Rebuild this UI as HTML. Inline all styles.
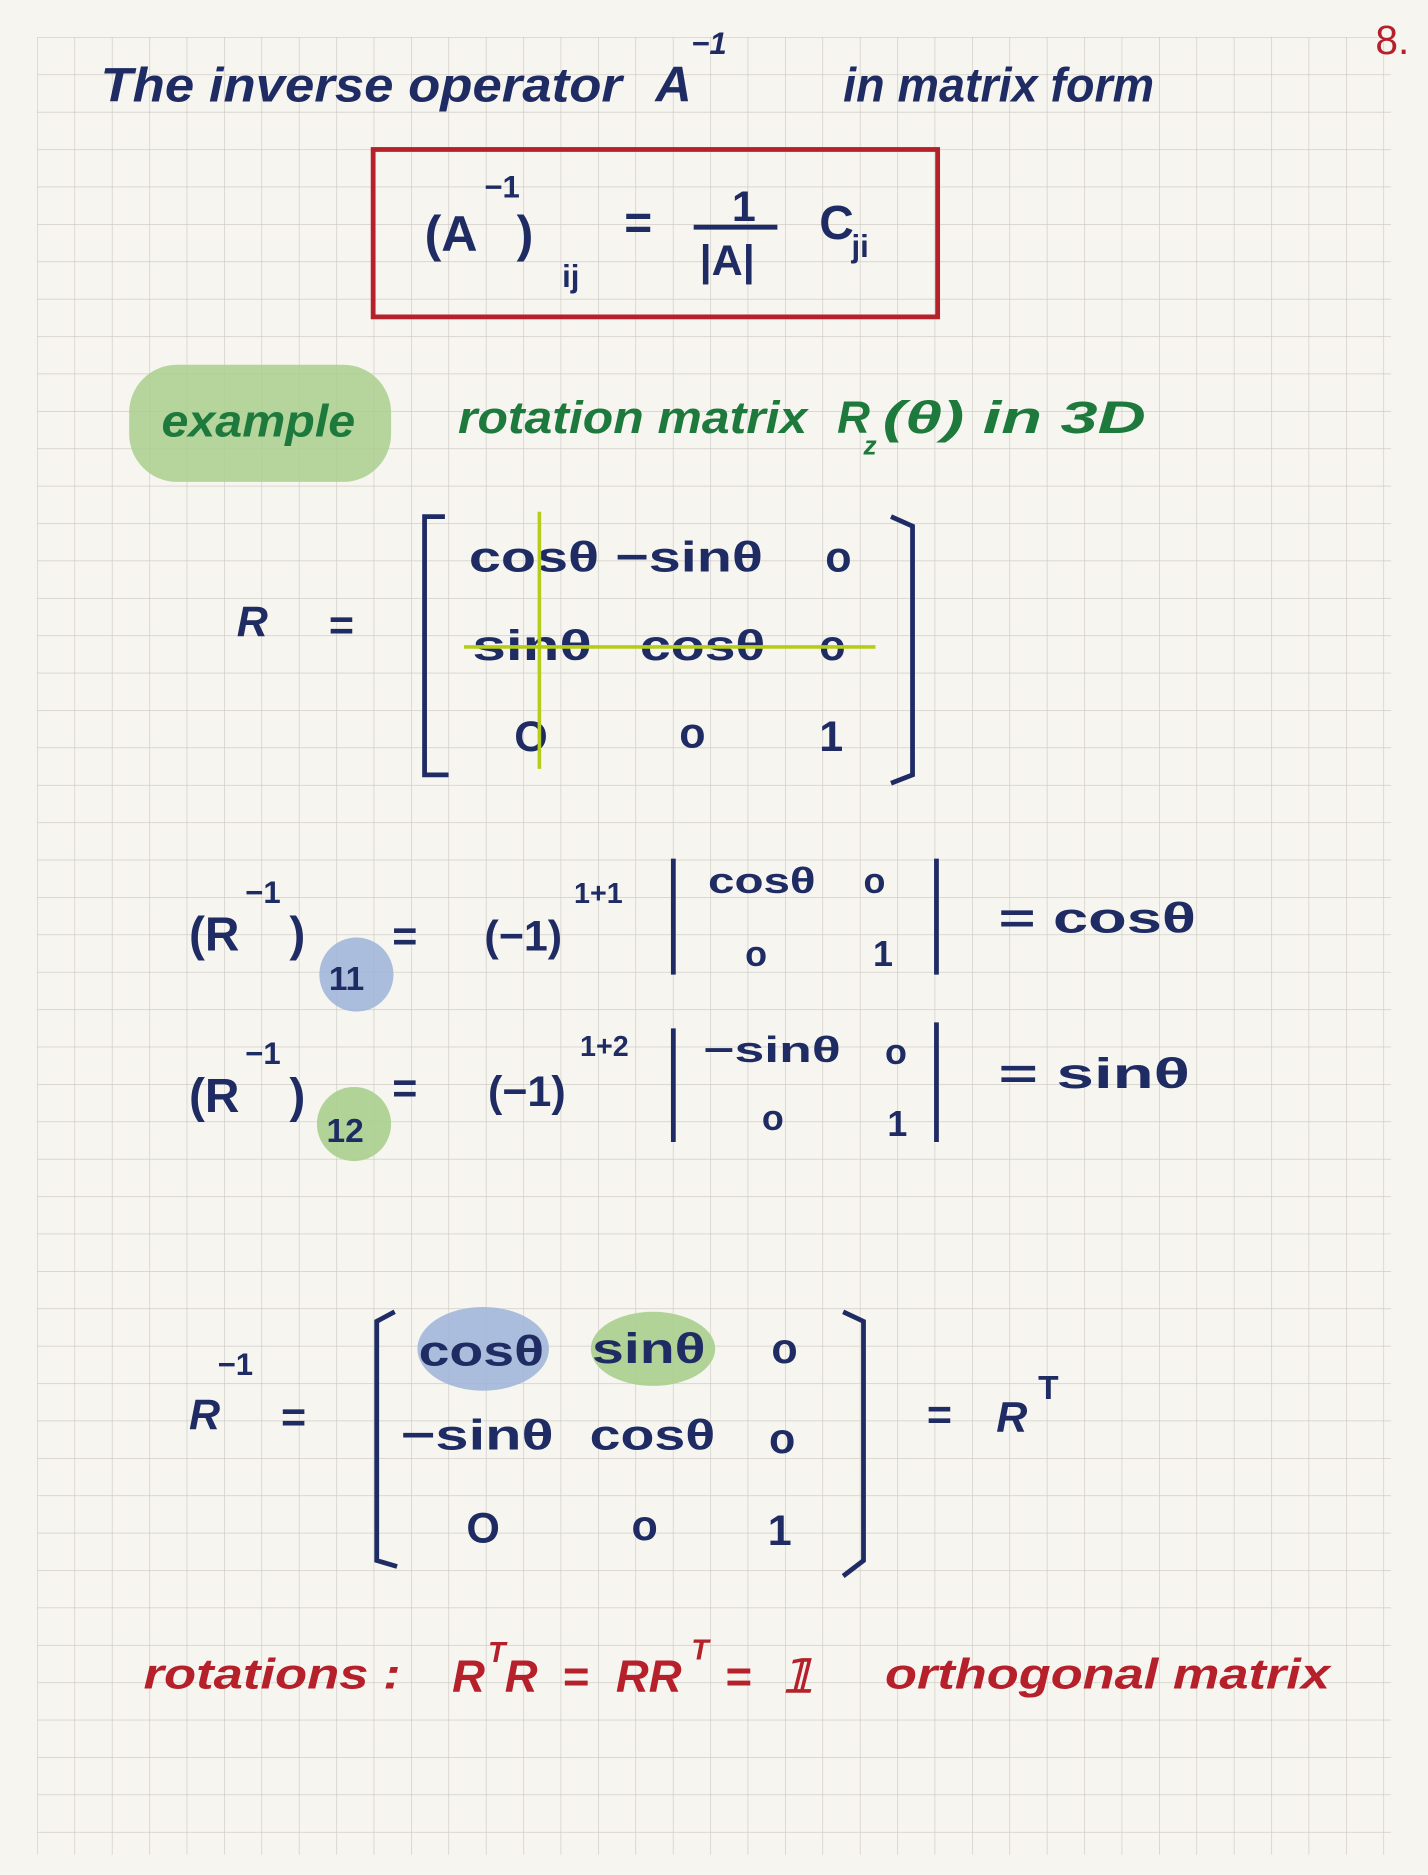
<!DOCTYPE html>
<html><head><meta charset="utf-8"><style>
html,body{margin:0;padding:0;background:#f7f5f0;}
svg{display:block;}
text{font-family:"Liberation Sans",sans-serif;}
</style></head><body>
<svg width="1428" height="1875" viewBox="0 0 1194 1568" preserveAspectRatio="none" xmlns="http://www.w3.org/2000/svg">
<defs>
<pattern id="g" x="31" y="31" width="31.27" height="31.27" patternUnits="userSpaceOnUse">
<path d="M0 0H31.27M0 0V31.27" stroke="#c9c6bf" stroke-width="1" fill="none"/>
</pattern>
</defs>
<rect width="1194" height="1568" fill="#f7f5f0"/>
<rect x="31" y="31" width="1132" height="1520" fill="url(#g)"/>

<g fill="#1f2b63" font-style="italic" font-weight="bold">
<text x="84" y="85" font-size="40" textLength="436" lengthAdjust="spacingAndGlyphs">The inverse operator</text>
<text x="548" y="85" font-size="42">A</text>
<text x="578" y="45" font-size="26">−1</text>
<text x="705" y="85" font-size="40" textLength="260" lengthAdjust="spacingAndGlyphs">in matrix form</text>
</g>
<text x="1150" y="45" font-size="34" fill="#b5202a">8.</text>

<rect x="312" y="125" width="472" height="140" fill="none" stroke="#b5202a" stroke-width="4"/>
<g fill="#1f2b63" font-weight="bold">
<text x="355" y="210" font-size="42">(A</text>
<text x="405" y="165" font-size="26">−1</text>
<text x="432" y="210" font-size="42">)</text>
<text x="470" y="240" font-size="26">ij</text>
<text x="522" y="200" font-size="40">=</text>
<text x="612" y="185" font-size="36">1</text>
<line x1="580" y1="190" x2="650" y2="190" stroke="#1f2b63" stroke-width="4"/>
<text x="585" y="230" font-size="36">|A|</text>
<text x="685" y="200" font-size="40">C</text>
<text x="712" y="215" font-size="26">ji</text>
</g>

<rect x="108" y="305" width="219" height="98" rx="40" fill="#a9cf8d" opacity="0.85"/>
<g fill="#1d7a3c" font-style="italic" font-weight="bold">
<text x="135" y="365" font-size="38" textLength="162" lengthAdjust="spacingAndGlyphs">example</text>
<text x="383" y="362" font-size="38" textLength="292" lengthAdjust="spacingAndGlyphs">rotation matrix</text>
<text x="700" y="362" font-size="38">R</text>
<text x="722" y="380" font-size="22">z</text>
<text x="738" y="362" font-size="38" textLength="220" lengthAdjust="spacingAndGlyphs">(θ) in 3D</text>
</g>

<g fill="#1f2b63" font-weight="bold" font-size="36">
<text x="198" y="532" font-style="italic">R</text>
<text x="275" y="535">=</text>
<path d="M372 432 L355 432 L355 648 L375 648 M745 432 L763 440 L763 648 L745 655" fill="none" stroke="#1f2b63" stroke-width="4"/>
<text x="392" y="478" textLength="246" lengthAdjust="spacingAndGlyphs">cosθ −sinθ</text>
<text x="690" y="478">o</text>
<text x="395" y="552" textLength="100" lengthAdjust="spacingAndGlyphs">sinθ</text>
<text x="535" y="552" textLength="105" lengthAdjust="spacingAndGlyphs">cosθ</text>
<text x="685" y="552">o</text>
<text x="430" y="628">O</text>
<text x="568" y="625">o</text>
<text x="685" y="628">1</text>
</g>
<line x1="451" y1="428" x2="451" y2="643" stroke="#b5cc18" stroke-width="3"/>
<line x1="388" y1="541" x2="732" y2="541" stroke="#b5cc18" stroke-width="3"/>

<circle cx="298" cy="815" r="31" fill="#9db3d8" opacity="0.85"/>
<circle cx="296" cy="940" r="31" fill="#a9cf8d" opacity="0.9"/>
<g fill="#1f2b63" font-weight="bold">
<text x="158" y="795" font-size="40">(R</text>
<text x="205" y="755" font-size="26">−1</text>
<text x="242" y="795" font-size="40">)</text>
<text x="275" y="828" font-size="28">11</text>
<text x="328" y="795" font-size="36">=</text>
<text x="405" y="795" font-size="36">(−1)</text>
<text x="480" y="755" font-size="24">1+1</text>
<line x1="563" y1="718" x2="563" y2="815" stroke="#1f2b63" stroke-width="4"/>
<line x1="783" y1="718" x2="783" y2="815" stroke="#1f2b63" stroke-width="4"/>
<text x="592" y="747" font-size="30" textLength="90" lengthAdjust="spacingAndGlyphs">cosθ</text><text x="722" y="747" font-size="30">o</text>
<text x="623" y="808" font-size="30">o</text><text x="730" y="808" font-size="30">1</text>
<text x="835" y="780" font-size="36" textLength="165" lengthAdjust="spacingAndGlyphs">= cosθ</text>

<text x="158" y="930" font-size="40">(R</text>
<text x="205" y="890" font-size="26">−1</text>
<text x="242" y="930" font-size="40">)</text>
<text x="273" y="955" font-size="28">12</text>
<text x="328" y="922" font-size="36">=</text>
<text x="408" y="925" font-size="36">(−1)</text>
<text x="485" y="883" font-size="24">1+2</text>
<line x1="563" y1="860" x2="563" y2="955" stroke="#1f2b63" stroke-width="4"/>
<line x1="783" y1="855" x2="783" y2="955" stroke="#1f2b63" stroke-width="4"/>
<text x="588" y="888" font-size="30" textLength="115" lengthAdjust="spacingAndGlyphs">−sinθ</text><text x="740" y="890" font-size="30">o</text>
<text x="637" y="945" font-size="30">o</text><text x="742" y="950" font-size="30">1</text>
<text x="835" y="910" font-size="36" textLength="160" lengthAdjust="spacingAndGlyphs">= sinθ</text>
</g>

<ellipse cx="404" cy="1128" rx="55" ry="35" fill="#9db3d8" opacity="0.85"/>
<ellipse cx="546" cy="1128" rx="52" ry="31" fill="#a9cf8d" opacity="0.9"/>
<g fill="#1f2b63" font-weight="bold" font-size="36">
<text x="158" y="1195" font-style="italic">R</text>
<text x="182" y="1150" font-size="26">−1</text>
<text x="235" y="1197">=</text>
<path d="M330 1097 L315 1105 L315 1305 L332 1310 M705 1097 L722 1105 L722 1305 L705 1318" fill="none" stroke="#1f2b63" stroke-width="4"/>
<text x="350" y="1142" textLength="105" lengthAdjust="spacingAndGlyphs">cosθ</text>
<text x="495" y="1140" textLength="95" lengthAdjust="spacingAndGlyphs">sinθ</text>
<text x="645" y="1140">o</text>
<text x="335" y="1212" textLength="128" lengthAdjust="spacingAndGlyphs">−sinθ</text>
<text x="493" y="1212" textLength="105" lengthAdjust="spacingAndGlyphs">cosθ</text>
<text x="643" y="1215">o</text>
<text x="390" y="1290">O</text>
<text x="528" y="1288">o</text>
<text x="642" y="1292">1</text>
<text x="775" y="1195">=</text>
<text x="833" y="1197" font-style="italic">R</text>
<text x="868" y="1170" font-size="28">T</text>
</g>

<g fill="#b5202a" font-style="italic" font-weight="bold">
<text x="120" y="1412" font-size="36" textLength="215" lengthAdjust="spacingAndGlyphs">rotations :</text>
<text x="378" y="1415" font-size="38">R</text>
<text x="408" y="1390" font-size="24">T</text>
<text x="422" y="1415" font-size="38">R</text>
<text x="470" y="1415" font-size="38">=</text>
<text x="515" y="1415" font-size="38">RR</text>
<text x="578" y="1388" font-size="24">T</text>
<text x="606" y="1415" font-size="38">=</text>
<text x="655" y="1415" font-size="38">𝟙</text>
<text x="740" y="1412" font-size="36" textLength="372" lengthAdjust="spacingAndGlyphs">orthogonal matrix</text>
</g>
</svg>
</body></html>
